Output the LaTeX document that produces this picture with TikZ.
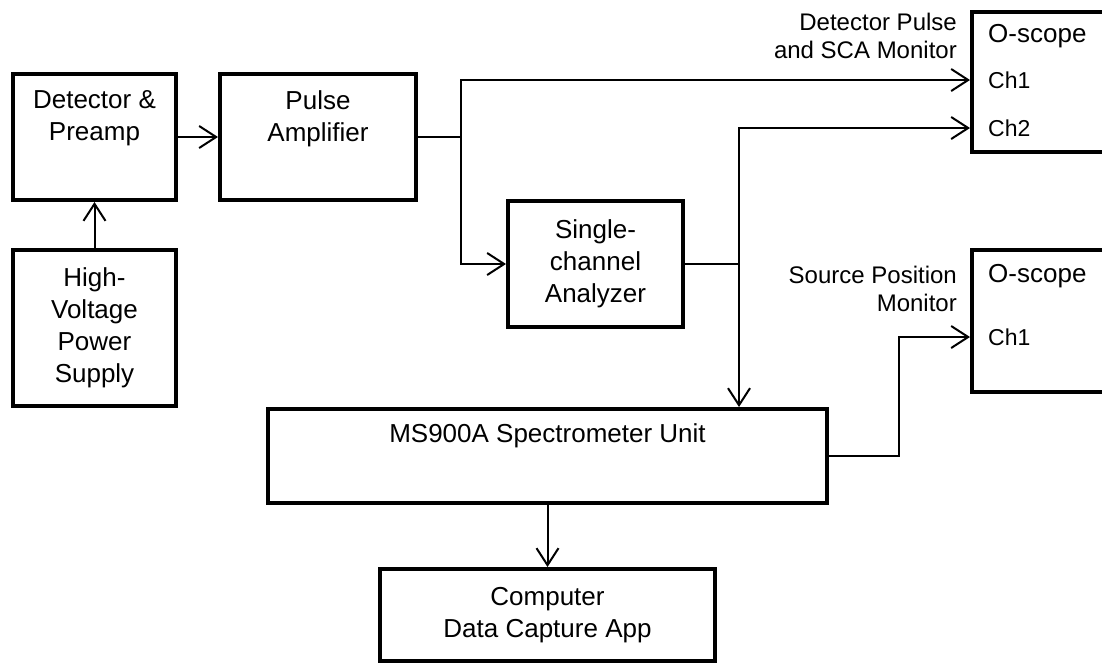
\documentclass[tikz,border=0pt]{standalone}
\usepackage{fontspec}
\setmainfont{Liberation Sans}
\usetikzlibrary{arrows.meta,positioning,calc}

\newcommand{\boxfont}{\fontsize{26}{32}\selectfont}
\newcommand{\notefont}{\fontsize{24}{28}\selectfont}
\newcommand{\chanfont}{\fontsize{23}{28}\selectfont}

\begin{document}
\begin{tikzpicture}[x=1pt, y=-1pt,
        block/.style={
            draw,
            line width=4pt,
            align=center,
            font=\boxfont
        },
        boxtext/.style={align=center, font=\boxfont, inner sep=0pt},
        note/.style={align=right, font=\notefont, inner sep=0pt},
        chan/.style={font=\chanfont, inner sep=0pt, anchor=west},
        wire/.style={line width=2pt},
        arrow/.style={-{Straight Barb[length=17pt,width=22pt]}, line width=2pt}
    ]

    \useasboundingbox (0,0) rectangle (1102,665);

    % Blocos
    \node[block, minimum width=163, minimum height=126,
        label={[boxtext, anchor=north, yshift=-18pt]north:{Detector \&\\Preamp}}] (det) at (94.5,137) {};
    \node[block, minimum width=196, minimum height=126,
        label={[boxtext, anchor=north, yshift=-18pt]north:{Pulse\\Amplifier}}] (pulse) at (318,137) {};
    \node[block, minimum width=163, minimum height=156] (hv) at (94.5,328) {High-\\Voltage\\Power\\Supply};
    \node[block, minimum width=175, minimum height=126] (sca) at (595.5,264) {Single-\\channel\\Analyzer};
    \node[block, minimum width=559, minimum height=94,
        label={[boxtext, anchor=north, yshift=-16pt]north:{MS900A Spectrometer Unit}}] (spec) at (547.5,456) {};
    \node[block, minimum width=335, minimum height=92] (comp) at (547.5,615) {Computer\\Data Capture App};

    % Osciloscopios
    \node[block, minimum width=170, minimum height=140] (scope1) at (1057,82) {};
    \node[block, minimum width=170, minimum height=142] (scope2) at (1057,321) {};
    \node[boxtext, anchor=west] (title1) at (988,36) {O-scope};
    \node[chan] (ch1a) at (988,80) {Ch1};
    \node[chan] (ch2a) at (988,128) {Ch2};
    \node[boxtext, anchor=west] (title2) at (988,276) {O-scope};
    \node[chan] (ch1b) at (988,337) {Ch1};

    \node[note, anchor=east] (mon1) at (957,36) {Detector Pulse\\and SCA Monitor};
    \node[note, anchor=east] (mon2) at (957,289) {Source Position\\Monitor};

    % Ligacoes
    \coordinate (split1) at ($(pulse.east)+(43,0)$);
    \coordinate (split2) at ($(sca.east)+(54,0)$);
    \coordinate (bend) at ($(spec.east)+(70,0)$);

    \draw[arrow] (hv) -- (det);
    \draw[arrow] (det) -- (pulse);
    \draw[wire] (pulse) -- (split1);
    \draw[arrow] (split1) |- (scope1.west |- ch1a);
    \draw[arrow] (split1) |- (sca);
    \draw[wire] (sca) -- (split2);
    \draw[arrow] (split2) |- (scope1.west |- ch2a);
    \draw[arrow] (split2) -- (split2 |- spec.north);
    \draw[arrow] (spec.east) -- (bend) |- (scope2.west |- ch1b);
    \draw[arrow] (spec) -- (comp);

\end{tikzpicture}
\end{document}
